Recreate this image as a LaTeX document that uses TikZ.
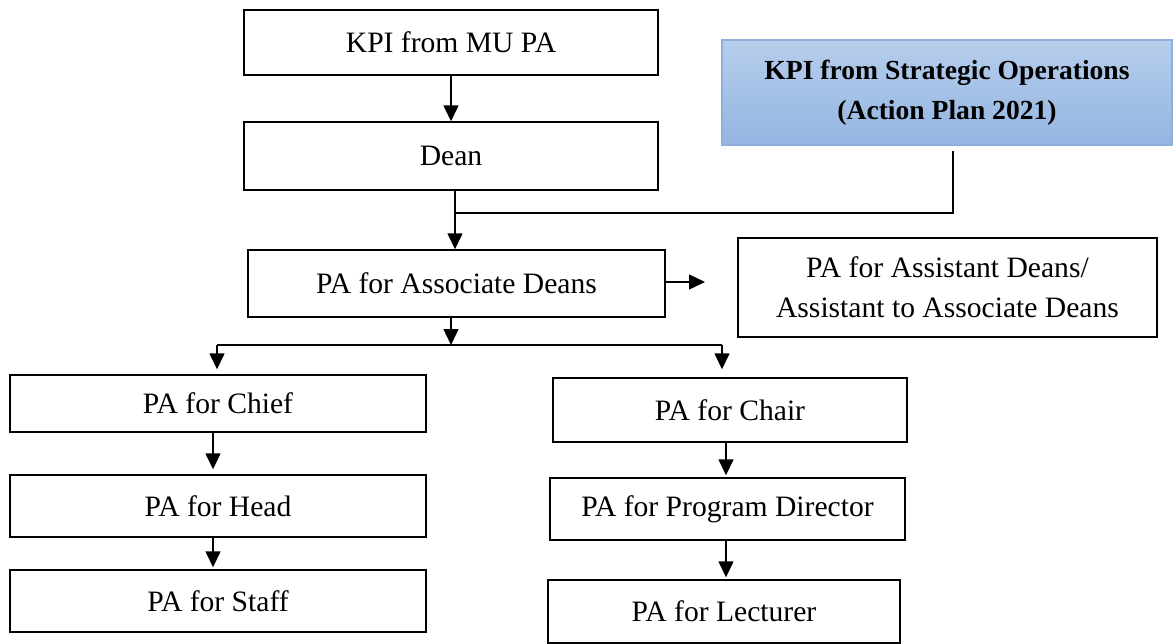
\documentclass[tikz,border=0pt]{standalone}
\usepackage{fontspec}
\setmainfont{Liberation Serif}
\usetikzlibrary{arrows.meta}
\definecolor{stratTop}{HTML}{B7CEEC}
\definecolor{stratBot}{HTML}{93B5E1}
\definecolor{stratLine}{HTML}{8DB0DC}
\tikzset{
  box/.style={draw, line width=0.7pt, align=center, inner sep=0pt, font=\fontsize{14.8}{20}\selectfont},
  link/.style={line width=0.7pt},
  arr/.style={link, -{Triangle[length=8pt,width=7.5pt]}},
}
\begin{document}
\begin{tikzpicture}[x=0.5pt,y=-0.5pt]
\useasboundingbox (0,0) rectangle (1173,643);
\node[box, minimum width=207pt, minimum height=32.5pt] (mupa) at (451,42.5) {KPI from MU PA};
\node[box, minimum width=207pt, minimum height=34pt] (dean) at (451,156) {Dean};
\node[box, draw=stratLine, top color=stratTop, bottom color=stratBot, minimum width=225pt, minimum height=52.5pt, font=\fontsize{13.8}{20}\selectfont\bfseries] (strat) at (947,92.5) {KPI from Strategic Operations\\(Action Plan 2021)};
\node[box, minimum width=208.5pt, minimum height=33.5pt] (assoc) at (456.5,283.5) {PA for Associate Deans};
\node[box, minimum width=209.5pt, minimum height=49.5pt] (assist) at (947.5,287.5) {PA for Assistant Deans/\\Assistant to Associate Deans};
\node[box, minimum width=208pt, minimum height=28.5pt] (chief) at (218,403.5) {PA for Chief};
\node[box, minimum width=208pt, minimum height=31pt] (head) at (218,506) {PA for Head};
\node[box, minimum width=208pt, minimum height=31pt] (staff) at (218,601) {PA for Staff};
\node[box, minimum width=177pt, minimum height=32pt] (chair) at (730,410) {PA for Chair};
\node[box, minimum width=177.5pt, minimum height=31pt] (progdir) at (727.5,509) {PA for Program Director};
\node[box, minimum width=176pt, minimum height=31.5pt] (lect) at (724,611.5) {PA for Lecturer};
% junctions
\coordinate (deanjoin) at (455,213);
\coordinate (stratjoin) at (953,213);
\coordinate (assistend) at (705,282);
\coordinate (split) at (451,345);
\coordinate (splitl) at (217,345);
\coordinate (splitr) at (722,345);
\coordinate (leftcol) at (213,0);
\coordinate (rightcol) at (726,0);
\draw[arr] (mupa) -- (dean);
\draw[link] (dean.south -| deanjoin) -- (deanjoin);
\draw[link, shorten <=2.5pt] (strat.south -| stratjoin) -- (stratjoin) -- (deanjoin);
\draw[arr] (deanjoin) -- (assoc.north -| deanjoin);
\draw[arr] (assoc.east |- assistend) -- (assistend);
\draw[arr] (assoc.south -| split) -- (split);
\draw[link] (splitl) -- (splitr);
\draw[arr, shorten >=2.5pt] (splitl) -- (chief.north -| splitl);
\draw[arr, shorten >=4pt] (splitr) -- (chair.north -| splitr);
\draw[arr, shorten >=2.5pt] (chief.south -| leftcol) -- (head.north -| leftcol);
\draw[arr, shorten >=1pt] (head.south -| leftcol) -- (staff.north -| leftcol);
\draw[arr, shorten >=1pt] (chair.south -| rightcol) -- (progdir.north -| rightcol);
\draw[arr, shorten >=1pt] (progdir.south -| rightcol) -- (lect.north -| rightcol);
\end{tikzpicture}
\end{document}
